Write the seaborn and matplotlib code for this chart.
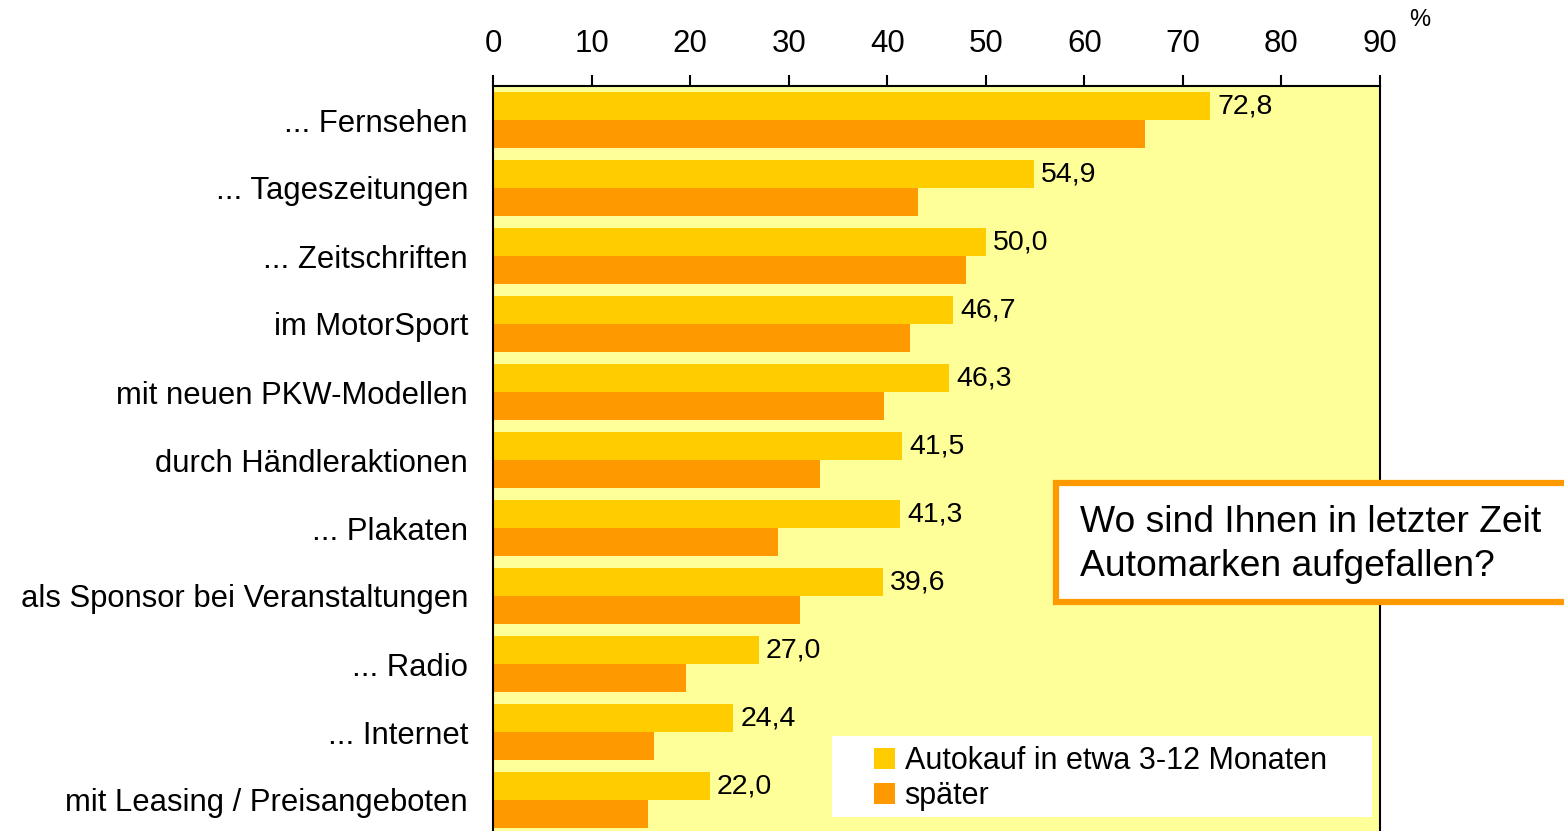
import matplotlib
matplotlib.use("Agg")
import matplotlib.pyplot as plt
import seaborn as sns
import pandas as pd
from matplotlib.patches import Rectangle, Patch

categories = ["... Fernsehen", "... Tageszeitungen", "... Zeitschriften", "im MotorSport",
              "mit neuen PKW-Modellen", "durch Händleraktionen", "... Plakaten",
              "als Sponsor bei Veranstaltungen", "... Radio", "... Internet",
              "mit Leasing / Preisangeboten"]
series_names = ["Autokauf in etwa 3-12 Monaten", "später"]
values_soon = [72.8, 54.9, 50.0, 46.7, 46.3, 41.5, 41.3, 39.6, 27.0, 24.4, 22.0]
values_later = [66.2, 43.1, 48.0, 42.3, 39.7, 33.2, 28.9, 31.1, 19.6, 16.3, 15.7]
x_ticks = [0, 10, 20, 30, 40, 50, 60, 70, 80, 90]
colors = ["#FFCC00", "#FF9900"]

df = pd.DataFrame({
    "Kategorie": categories * 2,
    "Wert": values_soon + values_later,
    "Serie": [series_names[0]] * len(categories) + [series_names[1]] * len(categories),
})

sns.set_theme(style="white")
plt.rcParams["font.family"] = ["Liberation Sans", "DejaVu Sans"]
plt.rcParams["text.color"] = "black"
plt.rcParams["xtick.color"] = "black"
plt.rcParams["ytick.color"] = "black"

fig = plt.figure(figsize=(15.64, 8.31), dpi=100)
W, H = 1564, 831
ax = fig.add_axes([493 / W, 1 - 834 / H, (1380 - 493) / W, (834 - 86) / H])
ax.set_facecolor("#FFFF99")

sns.barplot(data=df, y="Kategorie", x="Wert", hue="Serie", orient="h",
            palette=colors, width=0.8235, saturation=1, ax=ax, legend=False,
            linewidth=0, edgecolor="none")

ax.set_xlim(0, 90)
ax.set_ylim(len(categories) - 0.5, -0.5)
ax.set_xlabel("")
ax.set_ylabel("")
ax.xaxis.tick_top()
ax.set_xticks(x_ticks)
ax.set_xticklabels([str(t) for t in x_ticks], fontsize=22.5)
ax.tick_params(axis="x", direction="out", length=8, width=1.5, pad=11.5, colors="black")
ax.set_yticks(range(len(categories)))
ax.set_yticklabels(categories, fontsize=22.3)
ax.tick_params(axis="y", which="major", length=0, pad=18, colors="black")
ax.set_yticks([i - 0.5 for i in range(len(categories) + 1)], minor=True)
ax.tick_params(axis="y", which="minor", direction="out", length=8, width=1.5, color="black")
for s in ax.spines.values():
    s.set_visible(True)
    s.set_color("black")
    s.set_linewidth(1.5)

# value labels on the first series only
c0 = ax.containers[0]
ax.bar_label(c0, labels=[f"{v:.1f}".replace(".", ",") for v in values_soon],
             padding=5, fontsize=20.5, label_type="edge", color="black")

fig.text(1420 / W, 1 - 20 / H, "%", fontsize=17, ha="center", va="center")

# legend (white panel + entries)
panel = Rectangle((832 / W, 1 - 817 / H), (1372 - 832) / W, (817 - 736) / H,
                  transform=fig.transFigure, facecolor="white", edgecolor="none", zorder=5)
fig.add_artist(panel)
handles = [Patch(facecolor=colors[0], edgecolor="none"), Patch(facecolor=colors[1], edgecolor="none")]
leg = fig.legend(handles, series_names, loc="upper left",
                 bbox_to_anchor=(874 / W, 1 - 746 / H), fontsize=22,
                 frameon=False, handlelength=0.7, handleheight=0.7,
                 handletextpad=0.3, labelspacing=0.16, borderpad=0.0, borderaxespad=0)
leg.set_zorder(6)

# question box
box = Rectangle((1056 / W, 1 - 602 / H), (1600 - 1056) / W, (602 - 483) / H,
                transform=fig.transFigure, facecolor="white", edgecolor="#FF9900",
                linewidth=4.5, clip_on=False, zorder=5)
fig.add_artist(box)
fig.text(1080 / W, 1 - 522 / H, "Wo sind Ihnen in letzter Zeit", fontsize=26.8,
         ha="left", va="center", zorder=6)
fig.text(1080 / W, 1 - 567 / H, "Automarken aufgefallen?", fontsize=26.8,
         ha="left", va="center", zorder=6)

fig.savefig("out.png", dpi=100)
